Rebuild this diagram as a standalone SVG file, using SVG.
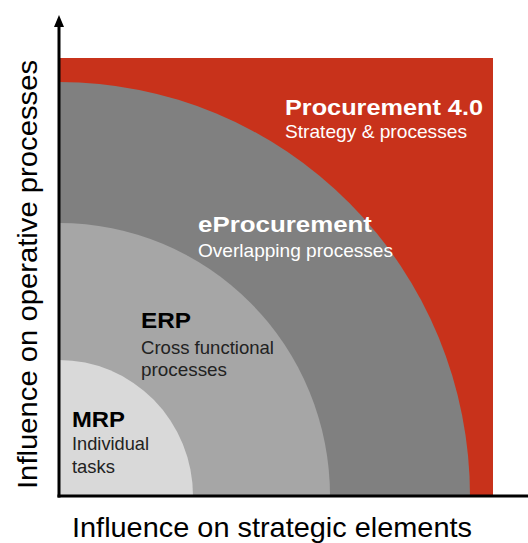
<svg xmlns="http://www.w3.org/2000/svg" width="528" height="543" viewBox="0 0 528 543">
<style>
text{font-family:"Liberation Sans",Arial,sans-serif}
.t{font-weight:bold;font-size:22px}
.d{font-size:19px}
.w{fill:#ffffff}
.k{fill:#000000}
.g{fill:#222222}
.ax{stroke:#000;stroke-width:3;fill:none}
.lbl{font-size:28px;fill:#000}
</style>
<rect width="528" height="543" fill="#ffffff"/>
<g id="procurement40">
<rect x="59" y="58" width="434" height="438" fill="#C8321B"/>
<text class="t w" x="285" y="115" textLength="198" lengthAdjust="spacingAndGlyphs">Procurement 4.0</text>
<text class="d w" x="285" y="138" textLength="182" lengthAdjust="spacingAndGlyphs">Strategy &amp; processes</text>
</g>
<g id="eprocurement">
<path d="M59 496 L59 82 A411 414 0 0 1 470 496 Z" fill="#808080"/>
<text class="t w" x="198" y="232" font-size="21" textLength="174" lengthAdjust="spacingAndGlyphs">eProcurement</text>
<text class="d w" x="198" y="257" textLength="195" lengthAdjust="spacingAndGlyphs">Overlapping processes</text>
</g>
<g id="erp">
<path d="M59 496 L59 223 A271 273 0 0 1 330 496 Z" fill="#A6A6A6"/>
<text class="t k" x="141" y="328" textLength="50" lengthAdjust="spacingAndGlyphs">ERP</text>
<text class="d g" x="141" y="354" textLength="133" lengthAdjust="spacingAndGlyphs">Cross functional</text>
<text class="d g" x="141" y="376" textLength="86" lengthAdjust="spacingAndGlyphs">processes</text>
</g>
<g id="mrp">
<path d="M59 496 L59 360 A134 136 0 0 1 193 496 Z" fill="#D9D9D9"/>
<text class="t k" x="72" y="427" textLength="53" lengthAdjust="spacingAndGlyphs">MRP</text>
<text class="d g" x="72" y="450" textLength="77" lengthAdjust="spacingAndGlyphs">Individual</text>
<text class="d g" x="72" y="473" textLength="43" lengthAdjust="spacingAndGlyphs">tasks</text>
</g>
<g id="connectors">
<line class="ax" x1="59" y1="24" x2="59" y2="497.5"/>
<polygon points="59,15 54,27 64,27" fill="#000"/>
<line class="ax" x1="57.5" y1="496" x2="528" y2="496"/>
</g>
<g id="axis-labels">
<text class="lbl" x="72" y="537" font-size="27" textLength="400" lengthAdjust="spacingAndGlyphs">Influence on strategic elements</text>
<text class="lbl" transform="translate(37 489) rotate(-90)" x="0" y="0" font-size="29" textLength="429" lengthAdjust="spacingAndGlyphs">Influence on operative processes</text>
</g>
</svg>
